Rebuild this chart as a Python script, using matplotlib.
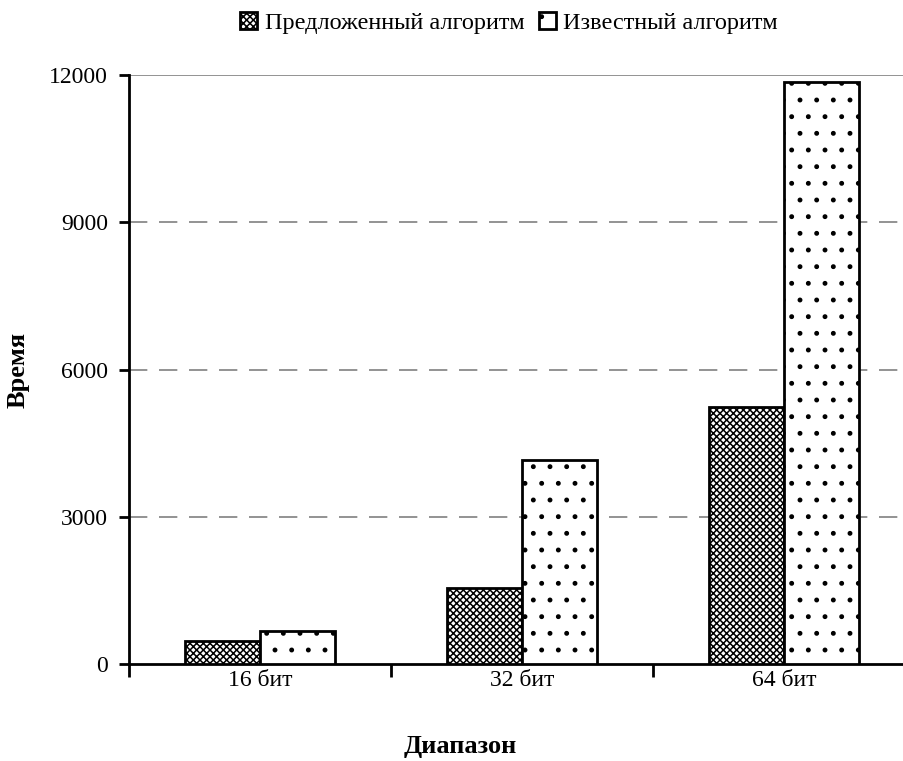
import matplotlib
matplotlib.use("Agg")
import matplotlib.pyplot as plt
import numpy as np

categories = ["16 бит", "32 бит", "64 бит"]
proposed = [470, 1550, 5240]
known = [680, 4150, 11850]
series_names = ["Предложенный алгоритм", "Известный алгоритм"]
y_ticks = [0, 3000, 6000, 9000, 12000]

plt.rcParams['font.family'] = ['Liberation Serif', 'DejaVu Serif']
plt.rcParams['hatch.linewidth'] = 1.1

fig = plt.figure(figsize=(9.04, 7.61), dpi=100)
ax = fig.add_axes([129 / 904, 97 / 761, 786 / 904, 589 / 761])

x = np.arange(len(categories))
w = 0.286
ax.bar(x - w / 2, proposed, w, color="white", edgecolor="black", linewidth=2,
       hatch="xxxxx", label=series_names[0], zorder=3)
ax.bar(x + w / 2, known, w, color="white", edgecolor="black", linewidth=2,
       hatch=".", label=series_names[1], zorder=3)

ax.set_xlim(-0.5, 2.5)
ax.set_ylim(0, 12000)
ax.set_yticks(y_ticks)
ax.set_yticklabels([str(v) for v in y_ticks])
for v in y_ticks[1:-1]:
    ax.axhline(v, color="#808080", linewidth=1.2, dashes=(11, 7), zorder=1)
ax.axhline(12000, color="#808080", linewidth=1.2, zorder=1)

ax.set_xticks([-0.5, 0.5, 1.5, 2.5])
ax.set_xticklabels([])
ax.set_xticks(x, minor=True)
ax.set_xticklabels(categories, minor=True)
ax.tick_params(axis="x", which="major", direction="out", length=9, width=2)
ax.tick_params(axis="x", which="minor", length=0, pad=4, labelsize=17)
ax.tick_params(axis="y", direction="out", length=7, width=2, labelsize=17, pad=8)

for s in ["top", "right"]:
    ax.spines[s].set_visible(False)
for s in ["left", "bottom"]:
    ax.spines[s].set_linewidth(2)

fig.text(18 / 904, 1 - 370 / 761, "Время", rotation=90, ha="center", va="center",
         fontsize=19, fontweight="bold")
fig.text(460 / 904, 1 - 746 / 761, "Диапазон", ha="center", va="center",
         fontsize=19, fontweight="bold")

fig.legend(loc="center", bbox_to_anchor=(509 / 904, 1 - 23 / 761), ncol=2, frameon=False,
           fontsize=17.5, handlelength=0.7, handleheight=0.7, handletextpad=0.3,
           columnspacing=0.6)

fig.savefig("out.png", dpi=100)
